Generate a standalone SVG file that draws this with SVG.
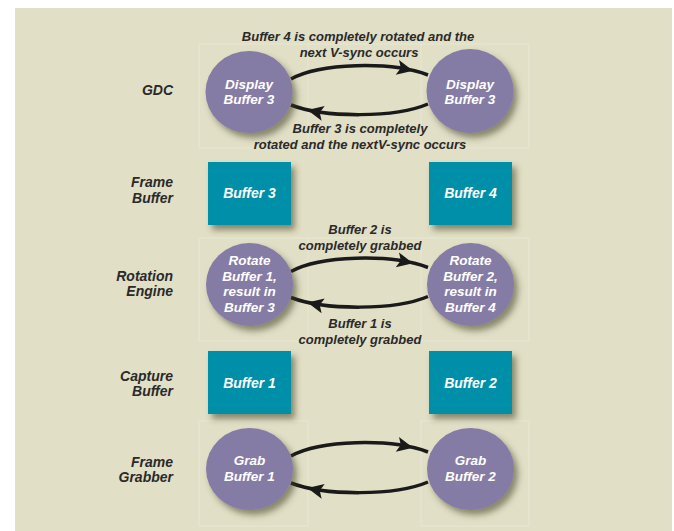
<svg xmlns="http://www.w3.org/2000/svg" width="674" height="531" viewBox="0 0 674 531">
<style>
text{font-family:"Liberation Sans",Arial,sans-serif;font-weight:bold;font-style:italic}
.lbl{font-size:14px;fill:#2a2a2a;text-anchor:end}
.cap{font-size:13px;fill:#2a2a2a;text-anchor:middle}
.ct{font-size:13.5px;fill:#ffffff;text-anchor:middle}
.rt{font-size:14px;fill:#ffffff;text-anchor:middle}
.circ{fill:#857ba6;filter:url(#sh)}
.box{fill:#008fa9;filter:url(#sh)}
.guide{fill:none;stroke:#ecead9;stroke-width:0.7}
.arc{fill:none;stroke:#1a1a1a;stroke-width:3.5}
.head{fill:#1a1a1a}
</style>
<defs>
<filter id="sh" x="-30%" y="-30%" width="160%" height="160%">
<feDropShadow dx="4" dy="5" stdDeviation="3" flood-color="#3d3d20" flood-opacity="0.55"/>
</filter>
<path id="ah" d="M0,0 L-16,-7.5 L-12.5,0 L-16,7.5 Z"/>
</defs>
<rect x="15" y="8" width="657" height="523" fill="#e1dfc6"/>
<g id="guides">
<rect class="guide" x="199" y="44" width="330" height="104"/>
<line class="guide" x1="308" y1="44" x2="308" y2="148"/>
<line class="guide" x1="421" y1="44" x2="421" y2="148"/>
<rect class="guide" x="199" y="238" width="330" height="103"/>
<line class="guide" x1="308" y1="238" x2="308" y2="341"/>
<line class="guide" x1="421" y1="238" x2="421" y2="341"/>
<rect class="guide" x="199" y="421" width="109" height="105"/>
<rect class="guide" x="421" y="421" width="108" height="105"/>
</g>
<g id="labels">
<text class="lbl" x="173" y="95">GDC</text>
<text class="lbl" x="173" y="187">Frame</text>
<text class="lbl" x="173" y="203">Buffer</text>
<text class="lbl" x="173" y="281">Rotation</text>
<text class="lbl" x="173" y="296">Engine</text>
<text class="lbl" x="173" y="381">Capture</text>
<text class="lbl" x="173" y="396">Buffer</text>
<text class="lbl" x="173" y="467">Frame</text>
<text class="lbl" x="173" y="482">Grabber</text>
</g>
<g id="connectors">
<path class="arc" d="M291,79 C320,63 390,61 428,75"/>
<use href="#ah" class="head" transform="translate(413,70.8) rotate(12.6)"/>
<path class="arc" d="M428,104 C395,118 325,118 291,105"/>
<use href="#ah" class="head" transform="translate(307.5,110) rotate(-168)"/>
<path class="arc" d="M291,271.5 C320,255.5 390,253.5 428,267.5"/>
<use href="#ah" class="head" transform="translate(413,263.3) rotate(12.6)"/>
<path class="arc" d="M428,296.5 C395,310.5 325,310.5 291,297.5"/>
<use href="#ah" class="head" transform="translate(307.5,302.5) rotate(-168)"/>
<path class="arc" d="M291,456 C320,440 390,438 428,452"/>
<use href="#ah" class="head" transform="translate(413,447.8) rotate(12.6)"/>
<path class="arc" d="M428,482 C395,496 325,496 291,483"/>
<use href="#ah" class="head" transform="translate(307.5,488) rotate(-168)"/>
<text class="cap" x="358" y="41">Buffer 4 is completely rotated and the</text>
<text class="cap" x="359" y="57">next V-sync occurs</text>
<text class="cap" x="360" y="133">Buffer 3 is completely</text>
<text class="cap" x="360" y="149">rotated and the nextV-sync occurs</text>
<text class="cap" x="360" y="234">Buffer 2 is</text>
<text class="cap" x="360" y="250">completely grabbed</text>
<text class="cap" x="360" y="328">Buffer 1 is</text>
<text class="cap" x="360" y="344">completely grabbed</text>
</g>
<g id="gdc-left">
<ellipse class="circ" cx="249" cy="92" rx="43.5" ry="41"/>
<text class="ct" x="249" y="89">Display</text>
<text class="ct" x="249" y="104">Buffer 3</text>
</g>
<g id="gdc-right">
<ellipse class="circ" cx="470" cy="91" rx="43.5" ry="42"/>
<text class="ct" x="470" y="89">Display</text>
<text class="ct" x="470" y="104">Buffer 3</text>
</g>
<g id="fb-buffer3">
<rect class="box" x="208" y="162" width="83" height="63"/>
<text class="rt" x="249.5" y="198">Buffer 3</text>
</g>
<g id="fb-buffer4">
<rect class="box" x="429" y="162" width="83" height="63"/>
<text class="rt" x="470.5" y="198">Buffer 4</text>
</g>
<g id="rot-left">
<ellipse class="circ" cx="249.5" cy="284.5" rx="43.5" ry="41.5"/>
<text class="ct" x="249.5" y="265">Rotate</text>
<text class="ct" x="249.5" y="281">Buffer 1,</text>
<text class="ct" x="249.5" y="296">result in</text>
<text class="ct" x="249.5" y="312">Buffer 3</text>
</g>
<g id="rot-right">
<ellipse class="circ" cx="470.5" cy="284.5" rx="43.5" ry="41.5"/>
<text class="ct" x="470.5" y="265">Rotate</text>
<text class="ct" x="470.5" y="281">Buffer 2,</text>
<text class="ct" x="470.5" y="296">result in</text>
<text class="ct" x="470.5" y="312">Buffer 4</text>
</g>
<g id="cap-buffer1">
<rect class="box" x="208" y="351" width="83" height="63"/>
<text class="rt" x="249.5" y="388">Buffer 1</text>
</g>
<g id="cap-buffer2">
<rect class="box" x="429" y="351" width="83" height="63"/>
<text class="rt" x="470.5" y="388">Buffer 2</text>
</g>
<g id="grab-left">
<ellipse class="circ" cx="249.5" cy="469" rx="43.5" ry="41"/>
<text class="ct" x="249.5" y="465">Grab</text>
<text class="ct" x="249.5" y="481">Buffer 1</text>
</g>
<g id="grab-right">
<ellipse class="circ" cx="470.5" cy="469" rx="43.5" ry="41"/>
<text class="ct" x="470.5" y="465">Grab</text>
<text class="ct" x="470.5" y="481">Buffer 2</text>
</g>
</svg>
